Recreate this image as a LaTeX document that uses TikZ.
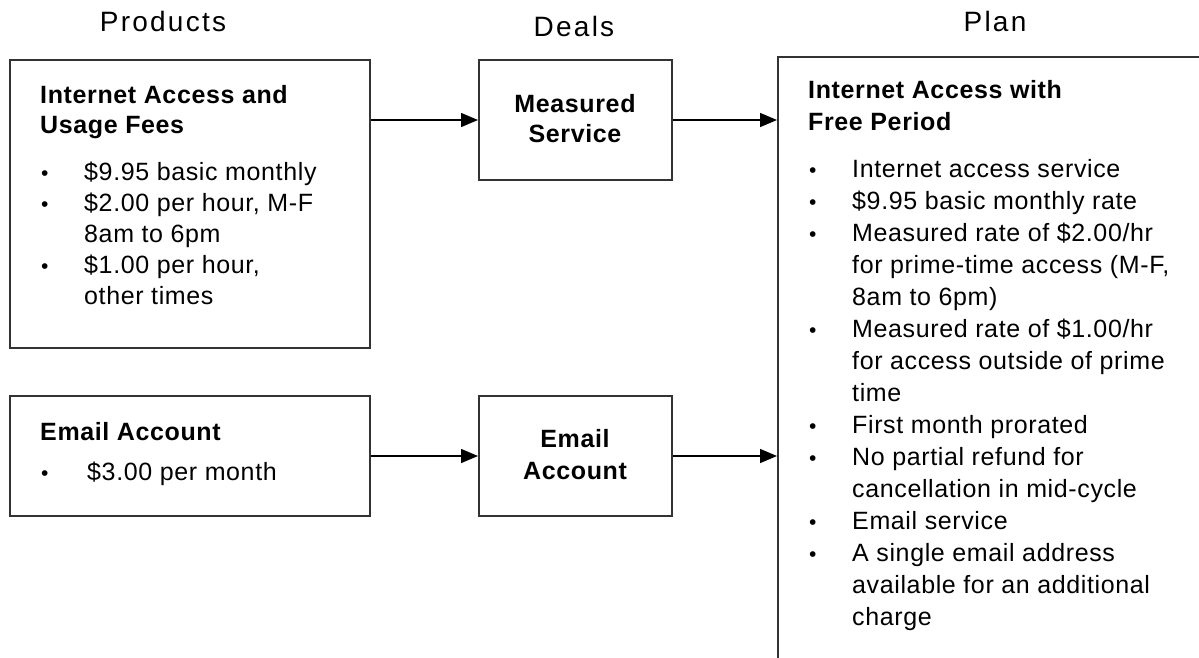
\documentclass[tikz,border=0pt]{standalone}
\usepackage{fontspec}
\setmainfont{Liberation Sans}
\newfontfamily\bodyf{Liberation Sans}[LetterSpace=2.5]
\newfontfamily\titlef{Liberation Sans}[LetterSpace=8]
\usetikzlibrary{arrows.meta}
\tikzset{
  box/.style={draw=black!80, line width=2pt, fill=none, inner sep=0pt},
  txt/.style={anchor=base west, inner sep=0pt, font=\bodyf\fontsize{25}{30}\selectfont},
  head/.style={anchor=base west, inner sep=0pt, font=\bodyf\fontsize{25}{30}\selectfont\bfseries},
  dealtxt/.style={anchor=base, inner sep=0pt, font=\bodyf\fontsize{25}{30}\selectfont\bfseries},
  title/.style={anchor=base, inner sep=0pt, font=\titlef\fontsize{28}{32}\selectfont},
  bul/.style={anchor=base west, inner sep=0pt, font=\fontsize{21}{25}\selectfont},
  conn/.style={draw=black, line width=1.5pt, -{Triangle[length=17pt,width=14pt]}},
}
\begin{document}
\begin{tikzpicture}[x=1pt,y=-1pt]
\useasboundingbox (0,0) rectangle (1199,657);
\clip (0,0) rectangle (1199,657);
% titles
\node[title] (tprod) at (163,31) {Products};
\node[title] (tdeal) at (574,36) {Deals};
\node[title] (tplan) at (995,31) {Plan};
% boxes
\node[box, minimum width=360pt, minimum height=288pt] (inet) at (190,204) {};
\node[box, minimum width=360pt, minimum height=120pt] (email) at (190,456) {};
\node[box, minimum width=193pt, minimum height=120pt] (ms) at (575.5,120) {};
\node[box, minimum width=193pt, minimum height=120pt] (ea) at (575.5,456) {};
\node[box, minimum width=480pt, minimum height=660pt] (plan) at (1018,387) {};
% box 1 text
\node[head] (h1a) at (40,103) {Internet Access and};
\node[head] (h1b) at (40,133) {Usage Fees};
\node[bul] (b1a) at (41,180) {•};
\node[txt] (t1a) at (84,180) {\$9.95 basic monthly};
\node[bul] (b1b) at (41,211) {•};
\node[txt] (t1b) at (84,211) {\$2.00 per hour, M-F};
\node[txt] (t1c) at (84,242) {8am to 6pm};
\node[bul] (b1d) at (41,273) {•};
\node[txt] (t1d) at (84,273) {\$1.00 per hour,};
\node[txt] (t1e) at (84,304) {other times};
% email product text
\node[head] (h2) at (40,440) {Email Account};
\node[bul] (b2) at (41,480) {•};
\node[txt] (t2) at (87,480) {\$3.00 per month};
% deals text
\node[dealtxt] (d1a) at (575,112) {Measured};
\node[dealtxt] (d1b) at (575,142) {Service};
\node[dealtxt] (d2a) at (575,447) {Email};
\node[dealtxt] (d2b) at (575,479) {Account};
% plan text
\node[head] (h3a) at (808,98) {Internet Access with};
\node[head] (h3b) at (808,130) {Free Period};
\foreach \t/\b [count=\i] in {
  {Internet access service}/1,
  {\$9.95 basic monthly rate}/1,
  {Measured rate of \$2.00/hr}/1,
  {for prime-time access (M-F,}/0,
  {8am to 6pm)}/0,
  {Measured rate of \$1.00/hr}/1,
  {for access outside of prime}/0,
  {time}/0,
  {First month prorated}/1,
  {No partial refund for}/1,
  {cancellation in mid-cycle}/0,
  {Email service}/1,
  {A single email address}/1,
  {available for an additional}/0,
  {charge}/0}{
  \pgfmathsetmacro{\yy}{177+(\i-1)*32}
  \node[txt] (pl\i) at (852,\yy) {\t};
  \ifnum\b=1 \node[bul] (pb\i) at (809,\yy) {•};\fi
}
% connectors
\draw[conn] (ms.west -| inet.east) -- (ms.west);
\draw[conn] (ms.east) -- (ms.east -| plan.west);
\draw[conn] (email.east) -- (ea.west);
\draw[conn] (ea.east) -- (ea.east -| plan.west);
\end{tikzpicture}
\end{document}
